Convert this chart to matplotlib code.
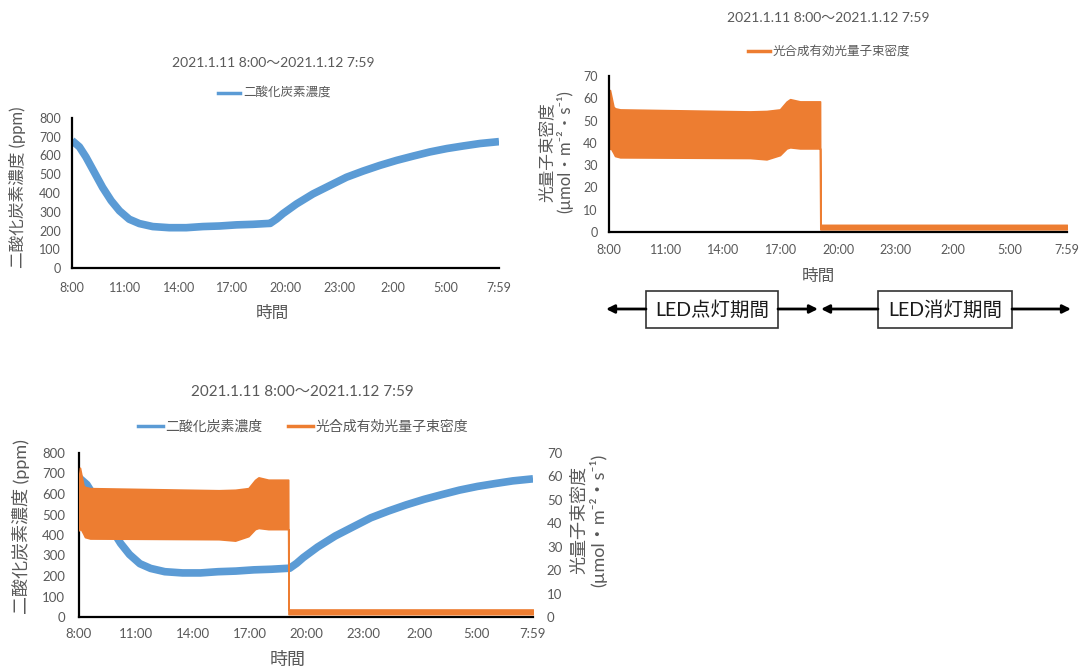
import numpy as np
import matplotlib
matplotlib.use("Agg")
import matplotlib.pyplot as plt
from matplotlib.lines import Line2D
from matplotlib.patches import Rectangle, FancyArrowPatch

plt.rcParams['font.family'] = ['Lato', 'Noto Sans CJK JP', 'DejaVu Sans']

# ---- data (minutes from 2021.1.11 8:00) ----
tick_pos = [0, 180, 360, 540, 720, 900, 1080, 1260, 1439]
tick_lbl = ["8:00", "11:00", "14:00", "17:00", "20:00", "23:00", "2:00", "5:00", "7:59"]

co2_t = [0, 25, 47, 75, 103, 132, 160, 193, 227, 272, 328, 385, 441, 497, 554,
         610, 655, 668, 690, 711, 756, 812, 869, 925, 981, 1037, 1094, 1150,
         1206, 1263, 1319, 1375, 1439]
co2_v = [680, 646, 592, 511, 430, 359, 305, 260, 237, 221, 215, 215, 221, 224, 230,
         233, 237, 238, 262, 290, 341, 395, 440, 484, 517, 547, 574, 597,
         619, 637, 651, 664, 674]

ppfd_t = [0, 3, 14, 19, 35, 443, 495, 537, 558, 569, 600, 663, 664, 1439]
ppfd_hi = [60, 63.7, 56.2, 55.5, 55, 54.1, 54.3, 55, 58.5, 59.6, 58.6, 58.6, 3.2, 3.2]
ppfd_lo = [37, 38.3, 35.5, 34.1, 33.5, 33.2, 32.6, 34.5, 37.5, 38, 37.5, 37.5, 1.2, 1.2]

co2_name = "二酸化炭素濃度"
ppfd_name = "光合成有効光量子束密度"
title = "2021.1.11 8:00～2021.1.12 7:59"

BLUE = "#5B9BD5"
ORANGE = "#ED7D31"
GREY = "#595959"

W, H = 1080, 672
fig = plt.figure(figsize=(W / 100, H / 100), dpi=100)


def fx(px):
    return px / W


def fy(py):
    return 1 - py / H


def box(x0, y0, x1, y1):
    return [fx(x0), fy(y1), fx(x1) - fx(x0), fy(y0) - fy(y1)]


def style_ax(ax, fs, xpad, ypad):
    for s in ("top", "right"):
        ax.spines[s].set_visible(False)
    for s in ("left", "bottom"):
        ax.spines[s].set_color("black")
        ax.spines[s].set_linewidth(1.6)
    ax.set_xlim(0, 1439)
    ax.set_xticks(tick_pos)
    ax.set_xticklabels(tick_lbl)
    ax.tick_params(axis="x", length=0, pad=xpad, labelsize=fs, labelcolor=GREY)
    ax.tick_params(axis="y", length=0, pad=ypad, labelsize=fs, labelcolor=GREY)


def draw_co2(ax):
    ax.plot(co2_t, co2_v, color=BLUE, lw=5.5, solid_joinstyle="round",
            solid_capstyle="butt")
    ax.set_ylim(0, 800)
    ax.set_yticks(range(0, 801, 100))


def draw_ppfd(ax):
    ax.fill_between(ppfd_t, ppfd_lo, ppfd_hi, color=ORANGE, lw=1.2, edgecolor=ORANGE)
    ax.set_ylim(0, 70)
    ax.set_yticks(range(0, 71, 10))


ppfd_label = "光量子束密度\n(µmol・m⁻²・s⁻¹)"

# ---- top left: CO2 ----
ax1 = fig.add_axes(box(72, 118, 499, 268))
draw_co2(ax1)
style_ax(ax1, 9, 10, 8)
fig.text(fx(273), fy(63), title, ha="center", va="center", fontsize=10, color=GREY)
ax1.legend([Line2D([], [], color=BLUE, lw=2.5)], [co2_name], loc="center",
           bbox_to_anchor=(fx(274), fy(93)), bbox_transform=fig.transFigure,
           frameon=False, fontsize=9, labelcolor=GREY, handlelength=1.8, handletextpad=0.2)
fig.text(fx(272), fy(313), "時間", ha="center", va="center", fontsize=12, color=GREY)
fig.text(fx(18), fy(187), "二酸化炭素濃度 (ppm)", rotation=90, ha="center", va="center",
         fontsize=12, color=GREY)

# ---- top right: PPFD ----
ax2 = fig.add_axes(box(609, 76, 1067, 232))
draw_ppfd(ax2)
style_ax(ax2, 9, 9, 8)
fig.text(fx(828), fy(18), title, ha="center", va="center", fontsize=10, color=GREY)
ax2.legend([Line2D([], [], color=ORANGE, lw=2.5)], [ppfd_name], loc="center",
           bbox_to_anchor=(fx(829), fy(51)), bbox_transform=fig.transFigure,
           frameon=False, fontsize=9, labelcolor=GREY, handlelength=1.8, handletextpad=0.2)
fig.text(fx(818), fy(276), "時間", ha="center", va="center", fontsize=12, color=GREY)
fig.text(fx(556), fy(152), ppfd_label, rotation=90, ha="center", va="center",
         multialignment="center", fontsize=12, color=GREY, linespacing=1.1)

# LED period boxes with arrows
for (x0, x1, txt) in [(646, 778, "LED点灯期間"), (878, 1012, "LED消灯期間")]:
    fig.add_artist(Rectangle((fx(x0), fy(328)), fx(x1) - fx(x0), fy(291) - fy(328),
                             transform=fig.transFigure, facecolor="white",
                             edgecolor="#333333", lw=1.2))
    fig.text(fx((x0 + x1) / 2), fy(310), txt, ha="center", va="center",
             fontsize=14, color="#1a1a1a")
for (xa, xb) in [(646, 606), (778, 818), (878, 821), (1012, 1071)]:
    fig.add_artist(FancyArrowPatch((fx(xa), fy(309)), (fx(xb), fy(309)),
                                   transform=fig.transFigure, arrowstyle="-|>",
                                   mutation_scale=12, lw=2, color="black",
                                   shrinkA=0, shrinkB=0))

# ---- bottom: combined ----
ax3 = fig.add_axes(box(79, 453, 533, 617))
draw_co2(ax3)
style_ax(ax3, 9.5, 8, 10)
ax4 = ax3.twinx()
draw_ppfd(ax4)
for s in ax4.spines.values():
    s.set_visible(False)
ax4.tick_params(axis="y", length=0, pad=10, labelsize=9.5, labelcolor=GREY)
fig.text(fx(302), fy(392), title, ha="center", va="center", fontsize=11, color=GREY)
ax3.legend([Line2D([], [], color=BLUE, lw=2.5), Line2D([], [], color=ORANGE, lw=2.5)],
           [co2_name, ppfd_name], loc="center", ncol=2,
           bbox_to_anchor=(fx(303), fy(426)), bbox_transform=fig.transFigure,
           frameon=False, fontsize=10, labelcolor=GREY, handlelength=1.8,
           handletextpad=0.2, columnspacing=1.8)
fig.text(fx(288), fy(660), "時間", ha="center", va="center", fontsize=13, color=GREY)
fig.text(fx(21), fy(527), "二酸化炭素濃度 (ppm)", rotation=90, ha="center", va="center",
         fontsize=13, color=GREY)
fig.text(fx(589), fy(520), ppfd_label, rotation=90, ha="center", va="center",
         multialignment="center", fontsize=13, color=GREY, linespacing=1.1)

fig.savefig("out.png", dpi=100)
